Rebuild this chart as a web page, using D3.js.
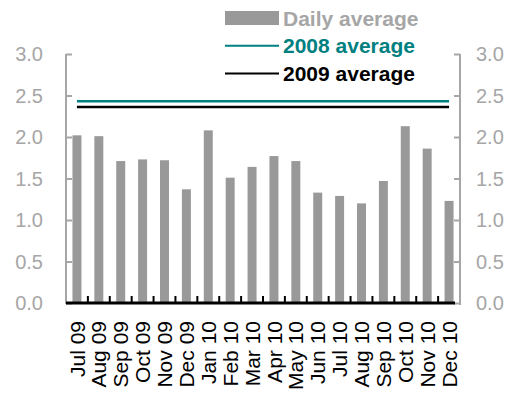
<!DOCTYPE html>
<html>
<head>
<meta charset="utf-8">
<script src="https://cdn.jsdelivr.net/npm/d3@7"></script>
<style>
  body { margin: 0; background: #fff; }
  svg { display: block; font-family: "Liberation Sans", Arial, sans-serif; }
</style>
</head>
<body>
<div id="chart"></div>
<script>
const months = ["Jul 09", "Aug 09", "Sep 09", "Oct 09", "Nov 09", "Dec 09",
  "Jan 10", "Feb 10", "Mar 10", "Apr 10", "May 10", "Jun 10",
  "Jul 10", "Aug 10", "Sep 10", "Oct 10", "Nov 10", "Dec 10"]
const dailyAvg = [2.02, 2.01, 1.71, 1.73, 1.72, 1.37, 2.08, 1.51, 1.64,
  1.77, 1.71, 1.33, 1.29, 1.20, 1.47, 2.13, 1.86, 1.23]
const avg2008 = 2.43
const avg2009 = 2.36
const yTicks = [0, 0.5, 1, 1.5, 2, 2.5, 3]

const legendItems = [
  { label: "Daily average", color: "#999999", type: "rect" },
  { label: "2008 average", color: "#008080", type: "line" },
  { label: "2009 average", color: "#000000", type: "line" }
]

const width = 514, height = 394
const plotLeft = 66, plotRight = 460, plotTop = 54, plotBottom = 303
const axisGray = "#a6a6a6"

const svg = d3.select("#chart").append("svg")
  .attr("width", width)
  .attr("height", height)

const x = d3.scaleBand()
  .domain(months)
  .range([plotLeft, plotRight])
  .paddingInner(0.59)
  .paddingOuter(0.295)

const band = d3.scaleBand().domain(months).range([plotLeft, plotRight])

const y = d3.scaleLinear()
  .domain([0, 3])
  .range([plotBottom, plotTop])

// bars
svg.selectAll("rect.bar")
  .data(dailyAvg)
  .enter()
  .append("rect")
  .attr("class", "bar")
  .attr("x", (d, i) => x(months[i]))
  .attr("width", x.bandwidth())
  .attr("y", d => y(d))
  .attr("height", d => y(0) - y(d))
  .attr("fill", "#999999")

// average lines
const xMid = m => band(m) + band.bandwidth() / 2
const avgLines = [
  { v: avg2008, color: "#008080" },
  { v: avg2009, color: "#000000" }
]
svg.selectAll("line.avg")
  .data(avgLines)
  .enter()
  .append("line")
  .attr("x1", xMid(months[0]))
  .attr("x2", xMid(months[months.length - 1]))
  .attr("y1", d => y(d.v))
  .attr("y2", d => y(d.v))
  .attr("stroke", d => d.color)
  .attr("stroke-width", 2.5)

// left axis
const leftAxis = svg.append("g")
  .attr("transform", `translate(${plotLeft},0)`)
  .call(d3.axisRight(y).tickValues(yTicks).tickSize(6).tickFormat(""))
leftAxis.select(".domain").attr("stroke", axisGray).attr("stroke-width", 2)
  .attr("d", `M0,${plotTop}V${plotBottom + 1}`)
leftAxis.selectAll(".tick line").attr("stroke", axisGray).attr("stroke-width", 2)

// right axis
const rightAxis = svg.append("g")
  .attr("transform", `translate(${plotRight},0)`)
  .call(d3.axisLeft(y).tickValues(yTicks).tickSize(6).tickFormat(""))
rightAxis.select(".domain").attr("stroke", axisGray).attr("stroke-width", 2)
  .attr("d", `M0,${plotTop}V${plotBottom + 2}`)
rightAxis.selectAll(".tick line").attr("stroke", axisGray).attr("stroke-width", 2)

// y labels
svg.selectAll("text.yl")
  .data(yTicks)
  .enter()
  .append("text")
  .attr("x", 43)
  .attr("y", d => y(d))
  .attr("dy", "0.36em")
  .attr("text-anchor", "end")
  .attr("font-size", 20)
  .attr("fill", axisGray)
  .text(d => d.toFixed(1))

svg.selectAll("text.yr")
  .data(yTicks)
  .enter()
  .append("text")
  .attr("x", 476)
  .attr("y", d => y(d))
  .attr("dy", "0.36em")
  .attr("font-size", 20)
  .attr("fill", axisGray)
  .text(d => d.toFixed(1))

// bottom axis
const bottomAxis = svg.append("g")
  .attr("transform", `translate(0,${plotBottom})`)
bottomAxis.append("line")
  .attr("x1", plotLeft).attr("x2", plotRight - 5)
  .attr("stroke", "#000").attr("stroke-width", 3)
bottomAxis.selectAll("line.tk")
  .data(months.slice(1))
  .enter()
  .append("line")
  .attr("x1", d => band(d)).attr("x2", d => band(d))
  .attr("y1", 0).attr("y2", -7)
  .attr("stroke", "#000").attr("stroke-width", 2)

// x labels
svg.selectAll("text.xl")
  .data(months)
  .enter()
  .append("text")
  .attr("transform", d => `translate(${xMid(d)},${plotBottom + 18}) rotate(-90)`)
  .attr("dy", "0.36em")
  .attr("text-anchor", "end")
  .attr("font-size", 21)
  .attr("fill", "#000")
  .text(d => d)

// legend
const legend = svg.append("g")
legendItems.forEach((item, i) => {
  const cy = 18 + i * 27.8
  if (item.type === "rect") {
    legend.append("rect")
      .attr("x", 225).attr("y", cy - 7)
      .attr("width", 54).attr("height", 14)
      .attr("fill", item.color)
  } else {
    legend.append("line")
      .attr("x1", 225).attr("x2", 279)
      .attr("y1", cy).attr("y2", cy)
      .attr("stroke", item.color).attr("stroke-width", 2)
  }
  legend.append("text")
    .attr("x", 283)
    .attr("y", cy + 7.5)
    .attr("font-size", 21)
    .attr("font-weight", "bold")
    .attr("fill", item.type === "rect" ? axisGray : item.color)
    .text(item.label)
})
</script>
</body>
</html>
